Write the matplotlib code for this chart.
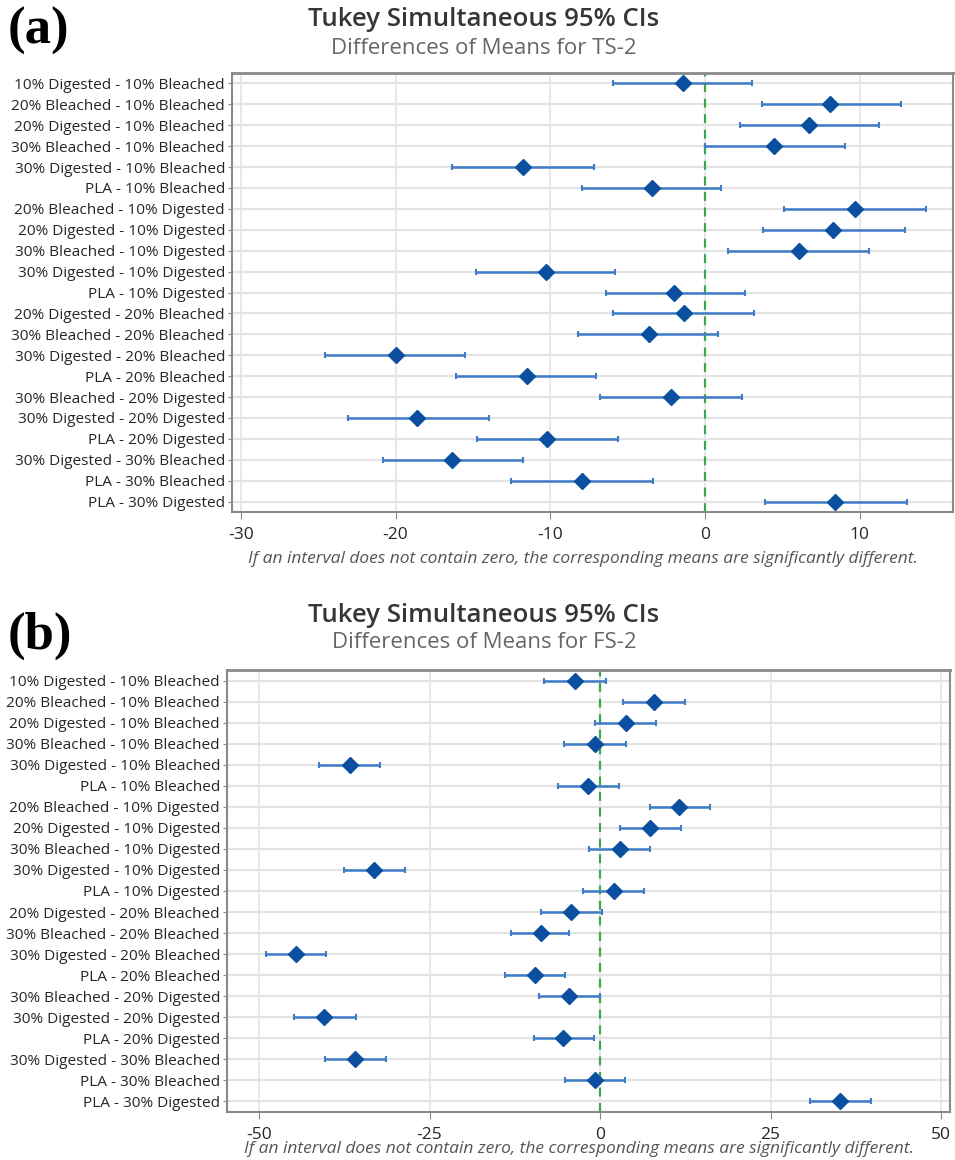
import numpy as np
import matplotlib.pyplot as plt

labels = ['10% Digested - 10% Bleached', '20% Bleached - 10% Bleached',
          '20% Digested - 10% Bleached', '30% Bleached - 10% Bleached',
          '30% Digested - 10% Bleached', 'PLA - 10% Bleached',
          '20% Bleached - 10% Digested', '20% Digested - 10% Digested',
          '30% Bleached - 10% Digested', '30% Digested - 10% Digested',
          'PLA - 10% Digested', '20% Digested - 20% Bleached',
          '30% Bleached - 20% Bleached', '30% Digested - 20% Bleached',
          'PLA - 20% Bleached', '30% Bleached - 20% Digested',
          '30% Digested - 20% Digested', 'PLA - 20% Digested',
          '30% Digested - 30% Bleached', 'PLA - 30% Bleached',
          'PLA - 30% Digested']

# TS-2 differences of means and 95% CI limits
ts_mean = [-1.45, 8.06, 6.71, 4.47, -11.76, -3.42, 9.72, 8.28, 6.09, -10.27, -1.98,
           -1.38, -3.60, -19.94, -11.53, -2.19, -18.59, -10.18, -16.34, -7.93, 8.40]
ts_low = [-5.95, 3.66, 2.24, 0.0, -16.34, -7.92, 5.13, 3.75, 1.50, -14.83, -6.42,
          -5.95, -8.20, -24.56, -16.10, -6.78, -23.10, -14.74, -20.80, -12.52, 3.87]
ts_high = [3.03, 12.65, 11.27, 9.08, -7.16, 1.01, 14.26, 12.90, 10.60, -5.80, 2.61,
           3.18, 0.87, -15.50, -7.05, 2.37, -13.96, -5.65, -11.74, -3.36, 13.03]

# FS-2 differences of means and 95% CI limits
fs_mean = [-3.67, 7.96, 3.74, -0.75, -36.73, -1.77, 11.63, 7.35, 2.86, -33.13, 2.04,
           -4.22, -8.64, -44.63, -9.59, -4.49, -40.48, -5.44, -35.92, -0.82, 35.17]
fs_low = [-8.16, 3.40, -0.75, -5.24, -41.16, -6.12, 7.35, 2.86, -1.63, -37.48, -2.45,
          -8.64, -13.13, -48.98, -13.95, -8.91, -44.90, -9.73, -40.40, -5.17, 30.75]
fs_high = [0.82, 12.38, 8.23, 3.74, -32.24, 2.72, 16.05, 11.90, 7.35, -28.57, 6.39,
           0.27, -4.49, -40.14, -5.10, 0.0, -35.85, -0.95, -31.43, 3.67, 39.66]

W, H = 955, 1160
fig = plt.figure(figsize=(W / 100, H / 100), dpi=100)
plt.rcParams['font.family'] = ['Open Sans', 'DejaVu Sans']

note = 'If an interval does not contain zero, the corresponding means are significantly different.'


def panel(rect, mean, low, high, xlim, xticks, sub, tag, title_y, tag_y, note_y):
    l, t, r, b = rect
    ax = fig.add_axes([l / W, 1 - b / H, (r - l) / W, (b - t) / H])
    y = np.arange(len(labels))
    mean = np.array(mean)
    err = [mean - np.array(low), np.array(high) - mean]
    for yy in y:
        ax.axhline(yy, color='#e4e4e4', lw=1.6, zorder=0)
    for xx in xticks:
        ax.axvline(xx, color='#e4e4e4', lw=1.2, zorder=0)
    ax.axvline(0, color='#3aa84a', ls=(0, (4, 3)), lw=1.6, zorder=1)
    ax.errorbar(mean, y, xerr=err, fmt='none', ecolor='#3f7cc6', elinewidth=1.8,
                capsize=2, capthick=1.5, zorder=2)
    ax.plot(mean, y, 'D', color='#0a4fa0', ms=8.5, zorder=3)
    ax.set_yticks(y)
    ax.set_yticklabels(labels, fontsize=11.1, color='#262626')
    ax.set_ylim(len(labels) - 0.5, -0.5)
    ax.set_xlim(*xlim)
    ax.set_xticks(xticks)
    ax.set_xticklabels([str(v) for v in xticks], fontsize=12.5, color='#262626')
    ax.tick_params(axis='y', length=3, width=0.8, color='#888888', pad=2)
    ax.tick_params(axis='x', length=5, width=0.8, color='#888888', pad=6)
    for s in ax.spines.values():
        s.set_color('#8a8a8a')
        s.set_linewidth(1.5)
    ax.spines['top'].set_linewidth(2)
    fig.text(484 / W, 1 - title_y / H, 'Tukey Simultaneous 95% CIs', ha='center', va='center',
             fontsize=18.5, fontweight='semibold', color='#363636')
    fig.text(484 / W, 1 - (title_y + 28) / H, sub, ha='center', va='center',
             fontsize=16, color='#666666')
    fig.text(8 / W, 1 - tag_y / H, tag, ha='left', va='center', fontsize=38,
             fontweight='bold', family='Liberation Serif', color='black')
    fig.text(((l + r) / 2 - 10) / W, 1 - note_y / H, note, ha='center', va='center',
             fontsize=12.5, style='italic', color='#555555')
    return ax


panel((232, 73, 953, 512), ts_mean, ts_low, ts_high, (-30.57, 16.03), [-30, -20, -10, 0, 10],
      'Differences of Means for TS-2', '(a)', 20, 31, 559)
panel((227, 670, 950, 1112), fs_mean, fs_low, fs_high, (-54.7, 51.3), [-50, -25, 0, 25, 50],
      'Differences of Means for FS-2', '(b)', 615, 636, 1149)

fig.savefig('out.png', dpi=100)
